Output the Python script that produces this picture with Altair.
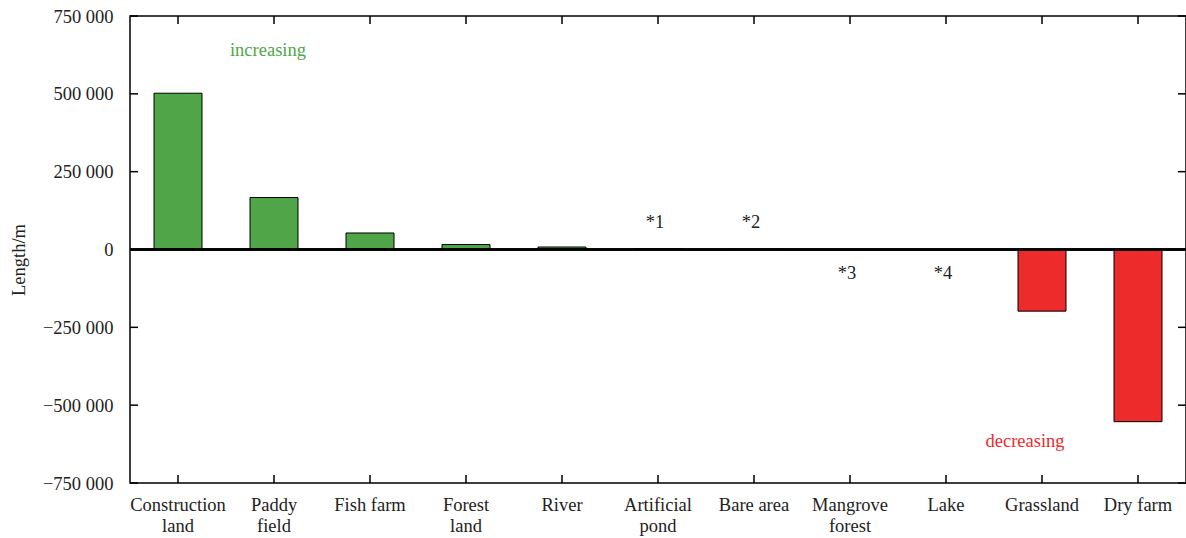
import altair as alt
import pandas as pd

categories = ["Construction\nland", "Paddy\nfield", "Fish farm", "Forest\nland", "River",
              "Artificial\npond", "Bare area", "Mangrove\nforest", "Lake", "Grassland", "Dry farm"]
values = [502000, 167000, 53000, 16000, 8000, 3000, 1000, -1000, -1000, -198000, -553000]
ytick_values = [-750000, -500000, -250000, 0, 250000, 500000, 750000]

note_labels = ["*1", "*2", "*3", "*4"]
note_cats = ["Artificial\npond", "Bare area", "Mangrove\nforest", "Lake"]
note_values = [88000, 88000, -76000, -76000]

trend_labels = ["increasing", "decreasing"]
trend_cats = ["Paddy\nfield", "Grassland"]
trend_values = [642000, -616000]
trend_colors = ["#4FA64A", "#EE2A2A"]

GREEN = "#50A548"
RED = "#EE2B2B"
FONT = "Liberation Serif"
FS = 18.5
W, H = 1056, 467

bars_df = pd.DataFrame({"category": categories, "value": values})
ticks_df = pd.DataFrame({"tick": ytick_values})
notes_df = pd.DataFrame({"label": note_labels, "category": note_cats, "value": note_values})
trend_df = pd.DataFrame({"label": trend_labels, "category": trend_cats,
                         "value": trend_values, "color": trend_colors})

xscale = alt.Scale(domain=categories, paddingInner=0.5, paddingOuter=0.25)
yscale = alt.Scale(domain=[-750000, 750000], nice=False, zero=False)

x_enc = alt.X("category:N", scale=xscale, sort=None,
              axis=alt.Axis(title=None, labelAngle=0, ticks=False, tickSize=0, domain=False,
                            labelExpr="split(datum.label, '\\n')",
                            labelFont=FONT, labelFontSize=FS, labelColor="#222",
                            labelPadding=12, labelLineHeight=21))

y_enc = alt.Y("value:Q", scale=yscale,
              axis=alt.Axis(title="Length/m", values=ytick_values, grid=False, ticks=False,
                            tickSize=0, domain=False,
                            labelExpr="replace(format(datum.value, ','), ',', ' ')",
                            labelFont=FONT, labelFontSize=FS, labelColor="#222", labelPadding=17,
                            titleFont=FONT, titleFontSize=FS, titleFontWeight="normal",
                            titleColor="#222", titlePadding=14, titleY=H / 2 + 10))

bars = alt.Chart(bars_df).mark_bar(stroke="black", strokeWidth=1).encode(
    x=x_enc,
    y=y_enc,
    color=alt.condition(alt.datum.value > 0, alt.value(GREEN), alt.value(RED)),
)

zero = alt.Chart(bars_df).mark_rule(color="black", strokeWidth=1.5).encode(
    y=alt.datum(0, scale=yscale)
)

xt_bottom = alt.Chart(bars_df).mark_rule(color="black", strokeWidth=1.5).encode(
    x=alt.X("category:N", scale=xscale, sort=None),
    y=alt.value(H), y2=alt.value(H - 8))
xt_top = alt.Chart(bars_df).mark_rule(color="black", strokeWidth=1.5).encode(
    x=alt.X("category:N", scale=xscale, sort=None),
    y=alt.value(0), y2=alt.value(8))
yt_left = alt.Chart(ticks_df).mark_rule(color="black", strokeWidth=1.5).encode(
    y=alt.Y("tick:Q", scale=yscale), x=alt.value(0), x2=alt.value(8))
yt_right = alt.Chart(ticks_df).mark_rule(color="black", strokeWidth=1.5).encode(
    y=alt.Y("tick:Q", scale=yscale), x=alt.value(W - 8), x2=alt.value(W))

notes = alt.Chart(notes_df).mark_text(font=FONT, fontSize=FS, color="#222", dx=-3).encode(
    x=alt.X("category:N", scale=xscale, sort=None),
    y=alt.Y("value:Q", scale=yscale),
    text="label:N")

inc = alt.Chart(trend_df[trend_df.label == "increasing"]).mark_text(
    font=FONT, fontSize=FS, dx=-6).encode(
    x=alt.X("category:N", scale=xscale, sort=None),
    y=alt.Y("value:Q", scale=yscale),
    text="label:N", color=alt.Color("color:N", scale=None))
dec = alt.Chart(trend_df[trend_df.label == "decreasing"]).mark_text(
    font=FONT, fontSize=FS, dx=-17).encode(
    x=alt.X("category:N", scale=xscale, sort=None),
    y=alt.Y("value:Q", scale=yscale),
    text="label:N", color=alt.Color("color:N", scale=None))

chart = alt.layer(bars, zero, xt_bottom, xt_top, yt_left, yt_right, notes, inc, dec).properties(
    width=W, height=H,
    autosize=alt.AutoSizeParams(type="none"),
    padding={"left": 130, "top": 16, "right": 0, "bottom": 55},
    background="white",
).configure_view(stroke="black", strokeWidth=1.5)

chart.save("out.html", embed_options={"renderer": "svg", "actions": False})
